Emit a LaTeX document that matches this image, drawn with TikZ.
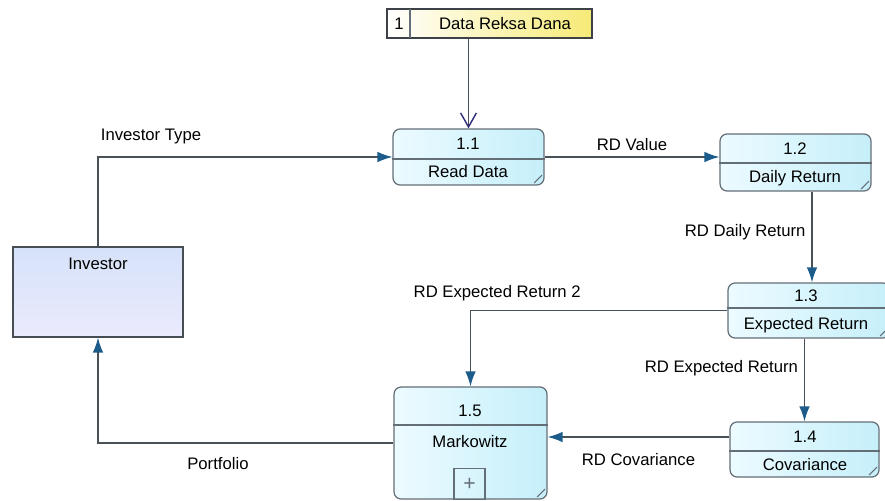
\documentclass[tikz,border=0pt]{standalone}
\usepackage{fontspec}
\setmainfont{Liberation Sans}
\usepackage{xcolor}
\usetikzlibrary{arrows.meta,positioning}

\definecolor{boxline}{RGB}{100,110,118}
\definecolor{flowline}{RGB}{72,80,88}
\definecolor{tipblue}{RGB}{28,92,138}
\definecolor{tipnavy}{RGB}{44,44,120}
\definecolor{procleft}{RGB}{236,251,255}
\definecolor{procright}{RGB}{198,239,250}
\definecolor{enttop}{RGB}{214,226,250}
\definecolor{entbottom}{RGB}{234,234,252}
\definecolor{storeyellow}{RGB}{246,234,118}

\begin{document}
\begin{tikzpicture}[x=0.02cm,y=-0.02cm,font=\fontsize{9.5}{11}\selectfont,
    process/.style={draw=boxline,line width=0.7pt,rounded corners=4pt,left color=procleft,right color=procright,inner sep=0pt},
    entity/.style={draw=boxline!70!black,line width=0.7pt,top color=enttop,bottom color=entbottom,inner sep=0pt},
    store/.style={draw=boxline!60!black,line width=0.7pt,left color=white,right color=storeyellow,inner sep=0pt},
    divline/.style={draw=boxline,line width=0.7pt},
    flow/.style={draw=flowline,line width=0.8pt,-{Latex[length=8.5pt,width=6pt,color=tipblue]}},
    readflow/.style={draw=flowline,line width=0.8pt,-{Straight Barb[length=8pt,width=9pt,color=tipnavy]}},
    lbl/.style={inner sep=1pt,text=black}]

    \useasboundingbox (0,0) rectangle (885,500);

    % data store
    \node[store, minimum width=4.1cm, minimum height=0.58cm] (st) at (489.5,23.5) {};
    \draw[divline] (410,9) -- (410,38);
    \node (stnum) at (399,24) {1};
    \node (stname) at (505,24) {Data Reksa Dana};

    % external entity
    \node[entity, minimum width=3.4cm, minimum height=1.8cm] (inv) at (98,292) {};
    \node (invtxt) at (98,264) {Investor};

    % processes
    \node[process, minimum width=3.02cm, minimum height=1.12cm] (p11) at (468.5,157) {};
    \draw[divline] (p11.west |- 0,159) -- (p11.east |- 0,159);
    \node (p11id) at (468,144) {1.1};
    \node (p11txt) at (468,172) {Read Data};

    \node[process, minimum width=3.02cm, minimum height=1.14cm] (p12) at (795.5,162.5) {};
    \draw[divline] (p12.west |- 0,163) -- (p12.east |- 0,163);
    \node (p12id) at (795,149) {1.2};
    \node (p12txt) at (795,178) {Daily Return};

    \node[process, minimum width=3.24cm, minimum height=1.1cm] (p13) at (809,310.5) {};
    \draw[divline] (p13.west |- 0,308) -- (p13.east |- 0,308);
    \node (p13id) at (806,296) {1.3};
    \node (p13txt) at (806,325) {Expected Return};

    \node[process, minimum width=2.98cm, minimum height=1.1cm] (p14) at (804.5,449.5) {};
    \draw[divline] (p14.west |- 0,451) -- (p14.east |- 0,451);
    \node (p14id) at (805,437) {1.4};
    \node (p14txt) at (805,465) {Covariance};

    \node[process, minimum width=3.06cm, minimum height=2.24cm] (p15) at (470.5,443) {};
    \draw[divline] (p15.west |- 0,425) -- (p15.east |- 0,425);
    \node (p15id) at (470,411) {1.5};
    \node (p15txt) at (470,442) {Markowitz};
    \node[draw=boxline, line width=0.7pt, minimum width=0.62cm, minimum height=0.62cm, inner sep=0pt,
        text=boxline, font=\large] (p15sub) at (469.5,484) {+};

    % folded corners
    \foreach \n in {p11,p12,p13,p14,p15}
        \draw[boxline, line width=0.6pt] ([xshift=-1.5pt,yshift=6pt]\n.south east) -- ([xshift=-6pt,yshift=1.5pt]\n.south east);

    % flows
    \draw[readflow] (p11.north |- st.south) -- (p11.north);
    \draw[flow] (inv.north) |- node[lbl, pos=0.59, above=6pt] {Investor Type} (p11.west);
    \draw[flow] (p11.east) -- node[lbl, above=2pt] {RD Value} (p11.east -| p12.west);
    \draw[flow] ([xshift=0.33cm]p12.south) -- node[left, pos=0.45] {RD Daily Return} ([xshift=0.33cm]p12.south |- p13.north);
    \draw[flow] (p13.west) -| node[lbl, pos=0.448, above=4pt] {RD Expected Return 2} (p15.north);
    \draw[flow] (p14.north |- p13.south) -- node[left, pos=0.36] {RD Expected Return} (p14.north);
    \draw[flow] ([yshift=0.25cm]p14.west) -- node[lbl, below=8pt] {RD Covariance} ([yshift=0.25cm]p14.west -| p15.east);
    \draw[flow] (p15.west) -| node[lbl, pos=0.297, below=7pt] {Portfolio} (inv.south);
\end{tikzpicture}
\end{document}
